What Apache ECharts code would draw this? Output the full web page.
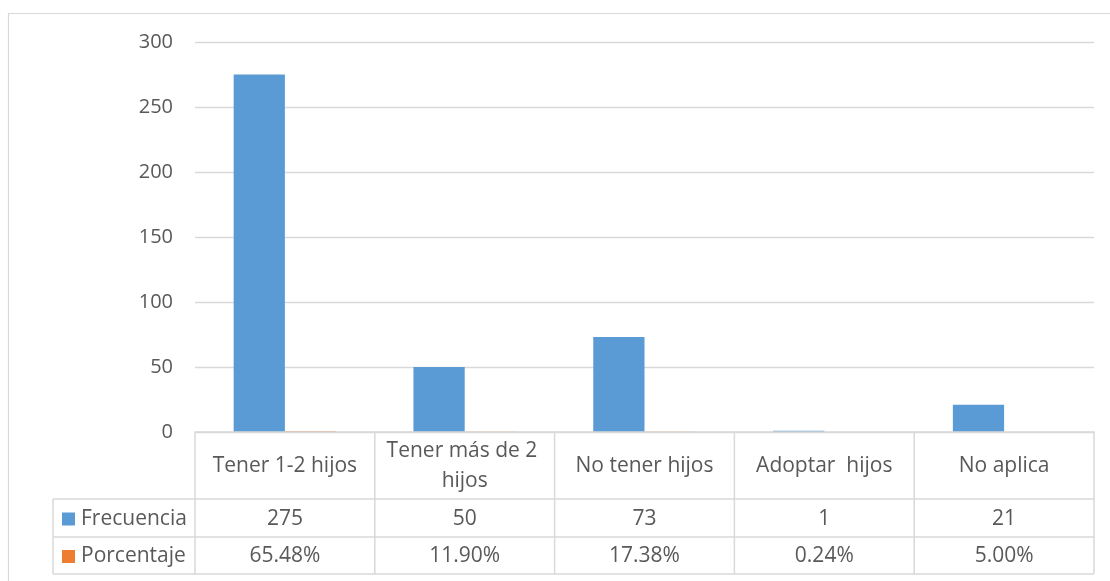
<!DOCTYPE html>
<html>
<head>
<meta charset="utf-8">
<script src="https://cdn.jsdelivr.net/npm/echarts@6/dist/echarts.min.js"></script>
<style>
html,body{margin:0;padding:0;background:#fff;}
#c{width:1110px;height:581px;}
</style>
</head>
<body>
<div id="c"></div>
<script>
const categories = ['Tener 1-2 hijos', 'Tener más de 2 hijos', 'No tener hijos', 'Adoptar  hijos', 'No aplica'];
const frecuencia = [275, 50, 73, 1, 21];
const porcentaje = [0.6548, 0.1190, 0.1738, 0.0024, 0.05];
const porcentajeLabels = ['65.48%', '11.90%', '17.38%', '0.24%', '5.00%'];
const seriesNames = ['Frecuencia', 'Porcentaje'];
const yTicks = [0, 50, 100, 150, 200, 250, 300];

const FONT = '"Open Sans", sans-serif';
const FS = 21;
const TXT = '#595959';
const LINE = '#D9D9D9';
const colors = ['#5B9BD5', '#ED7D31'];

const chart = echarts.init(document.getElementById('c'));
const option = {
  animation: false,
  color: colors,
  grid: {left: 195, right: 16, top: 42, bottom: 149, containLabel: false},
  xAxis: {
    type: 'category',
    data: categories,
    z: 5,
    axisLine: {show: true, lineStyle: {color: LINE, width: 1.5}},
    axisTick: {show: false},
    axisLabel: {show: false}
  },
  yAxis: {
    type: 'value',
    min: yTicks[0], max: yTicks[yTicks.length - 1], interval: 50,
    axisLine: {show: false},
    axisTick: {show: false},
    axisLabel: {color: TXT, fontFamily: FONT, fontSize: 20, margin: 22},
    splitLine: {lineStyle: {color: LINE, width: 1.3}}
  },
  series: [
    {name: seriesNames[0], type: 'bar', data: frecuencia, barGap: '0%', barCategoryGap: '43%'},
    {name: seriesNames[1], type: 'bar', data: porcentaje, barGap: '0%', barCategoryGap: '43%'}
  ]
};
chart.setOption(option);

function buildTable() {
  const g = [];
  const y0 = chart.convertToPixel({yAxisIndex: 0}, 0);
  const rowH = [y0, 499, 537, 574];
  const c0 = chart.convertToPixel({xAxisIndex: 0}, 0);
  const c1 = chart.convertToPixel({xAxisIndex: 0}, 1);
  const cw = c1 - c0;
  const xs = [];
  for (let i = 0; i <= categories.length; i++) xs.push(c0 - cw / 2 + i * cw);
  const leftX = 53;
  const ls = {stroke: LINE, lineWidth: 1.5};
  g.push({type: 'rect', shape: {x: 8.5, y: 13.5, width: 1200, height: 700}, style: {fill: null, stroke: LINE, lineWidth: 1.2}, silent: true});
  xs.forEach((x) => {
    g.push({type: 'line', shape: {x1: x, y1: rowH[0], x2: x, y2: rowH[3]}, style: ls});
  });
  g.push({type: 'line', shape: {x1: leftX, y1: rowH[1], x2: leftX, y2: rowH[3]}, style: ls});
  [1, 2, 3].forEach(r => {
    g.push({type: 'line', shape: {x1: leftX, y1: rowH[r], x2: xs[xs.length - 1], y2: rowH[r]}, style: ls});
  });
  categories.forEach((c, i) => {
    g.push({type: 'text', style: {text: c, x: (xs[i] + xs[i + 1]) / 2, y: (rowH[0] + rowH[1]) / 2 + 1,
      width: cw - 12, overflow: 'break', lineHeight: 30,
      align: 'center', verticalAlign: 'middle', fill: TXT, font: FS + 'px ' + FONT}});
  });
  const rowsText = [frecuencia.map(v => String(v)), porcentajeLabels];
  rowsText.forEach((arr, r) => {
    const cy = (rowH[r + 1] + rowH[r + 2]) / 2 + 1;
    g.push({type: 'rect', shape: {x: 62, y: cy - 6.5, width: 13, height: 13}, style: {fill: colors[r]}});
    g.push({type: 'text', style: {text: seriesNames[r], x: 81, y: cy, align: 'left', verticalAlign: 'middle', fill: TXT, font: FS + 'px ' + FONT}});
    arr.forEach((t, i) => {
      g.push({type: 'text', style: {text: t, x: (xs[i] + xs[i + 1]) / 2, y: cy, align: 'center', verticalAlign: 'middle', fill: TXT, font: FS + 'px ' + FONT}});
    });
  });
  chart.setOption({graphic: {elements: g}});
}
buildTable();
</script>
</body>
</html>
